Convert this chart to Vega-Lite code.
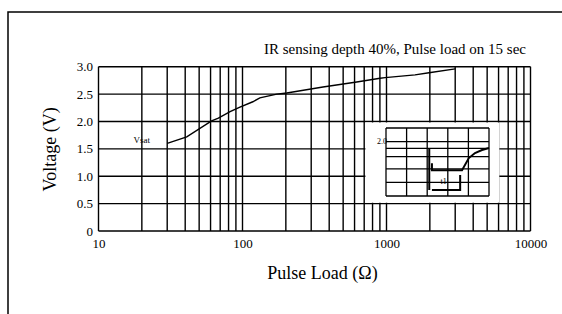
{
  "$schema": "https://vega.github.io/schema/vega-lite/v6.json",
  "width": 556,
  "height": 312,
  "autosize": "none",
  "padding": {"left": 8, "top": 12, "right": 0, "bottom": 0},
  "background": "white",
  "view": {"stroke": "black", "strokeWidth": 1.5},
  "config": {
    "font": "Liberation Serif",
    "axis": {"labelFont": "Liberation Serif", "titleFont": "Liberation Serif", "labelColor": "black", "titleColor": "black", "titleFontWeight": "normal"},
    "text": {"font": "Liberation Serif"}
  },
  "title": {"text": "IR sensing depth 40%, Pulse load on 15 sec", "anchor": "end", "orient": "top", "frame": "group", "offset": -45, "dx": -38, "font": "Liberation Serif", "fontSize": 15, "fontWeight": "normal", "color": "black"},
  "datasets": {
    "gridx": [{"ohm":10},{"ohm":20},{"ohm":30},{"ohm":40},{"ohm":50},{"ohm":60},{"ohm":70},{"ohm":80},{"ohm":90},{"ohm":100},{"ohm":200},{"ohm":300},{"ohm":400},{"ohm":500},{"ohm":600},{"ohm":700},{"ohm":800},{"ohm":900},{"ohm":1000},{"ohm":2000},{"ohm":3000},{"ohm":4000},{"ohm":5000},{"ohm":6000},{"ohm":7000},{"ohm":8000},{"ohm":9000},{"ohm":10000}],
    "gridy": [{"volt":0},{"volt":0.5},{"volt":1.0},{"volt":1.5},{"volt":2.0},{"volt":2.5},{"volt":3.0}],
    "curve": [{"ohm":30,"volt":1.6},{"ohm":41,"volt":1.72},{"ohm":61,"volt":2.01},{"ohm":68,"volt":2.06},{"ohm":82,"volt":2.18},{"ohm":96,"volt":2.26},{"ohm":118,"volt":2.36},{"ohm":132,"volt":2.43},{"ohm":173,"volt":2.5},{"ohm":203,"volt":2.52},{"ohm":362,"volt":2.63},{"ohm":621,"volt":2.72},{"ohm":902,"volt":2.79},{"ohm":977,"volt":2.8},{"ohm":1578,"volt":2.85},{"ohm":1973,"volt":2.89},{"ohm":3000,"volt":2.96}],
    "curvelabel": [{"ohm":20,"volt":1.66,"label":"Vsat"}],
    "insetbg": [{"x0":-1.0,"x1":5.5,"y0":-0.5,"y1":5.4}],
    "insetcols": [{"c":0},{"c":1},{"c":2},{"c":3},{"c":4},{"c":5}],
    "insetrows": [{"r":0},{"r":1},{"r":2},{"r":2.9},{"r":3.5},{"r":4},{"r":5}],
    "wave": [
      {"seg":"drop","i":0,"t":2.1,"v":3.53},{"seg":"drop","i":1,"t":2.1,"v":0.44},
      {"seg":"pulse","i":0,"t":2.23,"v":2.4},{"seg":"pulse","i":1,"t":2.23,"v":1.9},{"seg":"pulse","i":2,"t":3.69,"v":1.9},{"seg":"pulse","i":3,"t":4.02,"v":2.79},{"seg":"pulse","i":4,"t":4.32,"v":3.16},{"seg":"pulse","i":5,"t":4.66,"v":3.38},{"seg":"pulse","i":6,"t":5.0,"v":3.53},
      {"seg":"bracket","i":0,"t":2.23,"v":0.44},{"seg":"bracket","i":1,"t":3.6,"v":0.44},{"seg":"bracket","i":2,"t":3.6,"v":1.54}
    ],
    "insettext": [{"t":2.8,"v":1.05,"label":"t1","a":"center"},{"t":-0.2,"v":4.0,"label":"2.0","a":"right"}]
  },
  "layer": [
    {
      "layer": [
        {
          "data": {"name": "gridx"},
          "mark": {"type": "rule", "stroke": "black", "strokeWidth": 1.4},
          "encoding": {
            "x": {"field": "ohm", "type": "quantitative",
                  "scale": {"type": "log", "domain": [10, 10000], "range": [90.5, 522.5]},
                  "axis": {"orient": "bottom", "offset": -93, "values": [10, 100, 1000, 10000], "format": "d", "grid": false, "ticks": false, "domain": false, "labelFontSize": 13, "labelPadding": 6, "labelFlush": false, "title": "Pulse Load (Ω)", "titleFontSize": 18, "titleX": 314, "titleY": 42, "titleBaseline": "middle"}},
            "y": {"datum": 0, "type": "quantitative",
                  "scale": {"domain": [0, 3], "range": [219, 54.7], "nice": false, "zero": false},
                  "axis": {"orient": "left", "offset": -90.5, "values": [0, 0.5, 1, 1.5, 2, 2.5, 3], "labelExpr": "datum.value == 0 ? '0' : format(datum.value, '.1f')", "grid": false, "ticks": false, "domain": false, "labelFontSize": 13, "labelPadding": 6, "title": "Voltage (V)", "titleFontSize": 18, "titleX": -48, "titleBaseline": "middle", "titleAngle": 270}},
            "y2": {"datum": 3}
          }
        },
        {
          "data": {"name": "gridy"},
          "mark": {"type": "rule", "stroke": "black", "strokeWidth": 1.4},
          "encoding": {
            "y": {"field": "volt", "type": "quantitative"},
            "x": {"datum": 10, "type": "quantitative"},
            "x2": {"datum": 10000}
          }
        },
        {
          "data": {"name": "curve"},
          "mark": {"type": "line", "stroke": "black", "strokeWidth": 1.4},
          "encoding": {
            "x": {"field": "ohm", "type": "quantitative"},
            "y": {"field": "volt", "type": "quantitative"}
          }
        },
        {
          "data": {"name": "curvelabel"},
          "mark": {"type": "text", "fontSize": 9, "color": "black", "align": "center", "baseline": "middle"},
          "encoding": {
            "x": {"field": "ohm", "type": "quantitative"},
            "y": {"field": "volt", "type": "quantitative"},
            "text": {"field": "label"}
          }
        }
      ]
    },
    {
      "layer": [
        {
          "data": {"name": "insetbg"},
          "mark": {"type": "rect", "fill": "white", "stroke": null},
          "encoding": {
            "x": {"field": "x0", "type": "quantitative", "scale": {"domain": [0, 5], "range": [378, 481], "nice": false, "zero": false}, "axis": null},
            "x2": {"field": "x1"},
            "y": {"field": "y0", "type": "quantitative", "scale": {"domain": [0, 5], "range": [184, 116], "nice": false, "zero": false}, "axis": null},
            "y2": {"field": "y1"}
          }
        },
        {
          "data": {"name": "insetcols"},
          "mark": {"type": "rule", "stroke": "black", "strokeWidth": 1.3},
          "encoding": {
            "x": {"field": "c", "type": "quantitative"},
            "y": {"datum": 0, "type": "quantitative"},
            "y2": {"datum": 5}
          }
        },
        {
          "data": {"name": "insetrows"},
          "mark": {"type": "rule", "stroke": "black", "strokeWidth": 1.3},
          "encoding": {
            "y": {"field": "r", "type": "quantitative"},
            "x": {"datum": 0, "type": "quantitative"},
            "x2": {"datum": 5}
          }
        },
        {
          "data": {"name": "wave"},
          "mark": {"type": "line", "stroke": "black", "strokeWidth": 2},
          "encoding": {
            "x": {"field": "t", "type": "quantitative"},
            "y": {"field": "v", "type": "quantitative"},
            "detail": {"field": "seg"},
            "order": {"field": "i"}
          }
        },
        {
          "data": {"name": "insettext"},
          "mark": {"type": "text", "fontSize": 8, "color": "black", "baseline": "middle"},
          "encoding": {
            "x": {"field": "t", "type": "quantitative"},
            "y": {"field": "v", "type": "quantitative"},
            "text": {"field": "label"},
            "align": {"field": "a", "type": "nominal", "scale": null}
          }
        }
      ]
    }
  ],
  "resolve": {"scale": {"x": "independent", "y": "independent"}, "axis": {"x": "independent", "y": "independent"}}
}
